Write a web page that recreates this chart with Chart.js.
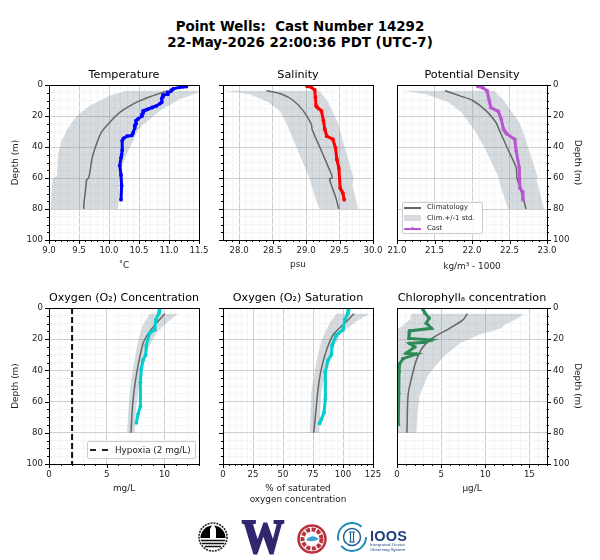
<!DOCTYPE html>
<html>
<head>
<meta charset="utf-8">
<script src="https://cdn.jsdelivr.net/npm/chart.js@4"></script>
<style>
  body { margin: 0; background: #fff; font-family: "DejaVu Sans", sans-serif; }
  #page { position: relative; width: 600px; height: 560px; overflow: hidden; }
  canvas { position: absolute; }
  h1 { position: absolute; left: 0; top: 19px; width: 600px; margin: 0; text-align: center; white-space: pre;
       font: bold 13.4px/16px "DejaVu Sans", sans-serif; color: #000; }
  .legend { position: absolute; background: rgba(255,255,255,.8); border: 1px solid #ccc; border-radius: 2px; box-sizing: border-box; color: #222; }
  .legend div { position: absolute; white-space: pre; }
  .legend i { position: absolute; display: block; }
  #logos { position: absolute; left: 190px; top: 515px; }
</style>
</head>
<body>
<div id="page">
  <h1>Point Wells:  Cast Number 14292
22-May-2026 22:00:36 PDT (UTC-7)</h1>
  <canvas id="c0"></canvas><canvas id="c1"></canvas><canvas id="c2"></canvas>
  <canvas id="c3"></canvas><canvas id="c4"></canvas><canvas id="c5"></canvas>

  <div class="legend" style="left:402px;top:202px;width:81px;height:32px;font-size:6.9px">
    <i style="left:1px;top:4px;width:17px;height:1.5px;background:#666"></i><div style="left:24px;top:0px">Climatology</div>
    <i style="left:1px;top:12px;width:17px;height:6px;background:#d8dce1"></i><div style="left:24px;top:10.5px">Clim.+/-1 std.</div>
    <i style="left:1px;top:25px;width:17px;height:1.5px;background:#ba55d3"></i><i style="left:8px;top:24px;width:3px;height:3px;background:#ba55d3;border-radius:50%"></i><div style="left:24px;top:21px">Cast</div>
  </div>
  <div class="legend" style="left:87px;top:441px;width:109px;height:18px;font-size:8.8px">
    <i style="left:2px;top:7px;width:18px;border-top:2px dashed #222"></i><div style="left:27px;top:2.5px">Hypoxia (2 mg/L)</div>
  </div>

  <svg id="logos" width="230" height="45" viewBox="0 0 230 45">
    <circle cx="23" cy="22" r="14" fill="#fff" stroke="#222" stroke-width="1.6" stroke-dasharray="2 1"/>
    <path d="M10.500 23 A12.500 12.500 0 0 1 35.500 23 Z" fill="#000"/>
    <path d="M20 23 L20 14 L22 10 L24 10 L26 14 L26 23 Z" fill="#fff"/>
    <path d="M11 25.500 H35 M12 28.500 H34 M15 31.500 H31" stroke="#111" stroke-width="1.4"/>
    <text x="73" y="38" text-anchor="middle" font-family="Liberation Serif" font-weight="bold" font-size="49" fill="#32266f" stroke="#32266f" stroke-width="2.2" textLength="42" lengthAdjust="spacingAndGlyphs">W</text>
    <circle cx="122" cy="24" r="13.5" fill="#fff" stroke="#b8333d" stroke-width="2.5"/>
    <circle cx="122" cy="24" r="9.5" fill="none" stroke="#b8333d" stroke-width="4" stroke-dasharray="4 1.500"/>
    <path d="M116 25 Q122 18 129 24 Q122 28 116 25 Z" fill="#3f9fd0"/>
    <circle cx="162" cy="22" r="14" fill="none" stroke="#1f8fb5" stroke-width="2" stroke-dasharray="34 6 36 12"/>
    <circle cx="162" cy="22" r="8.5" fill="none" stroke="#1d5f95" stroke-width="1.5"/>
    <path d="M160.500 17 V27 M163.500 17 V27 M159 17 H165 M159 27 H165" stroke="#1d5f95" stroke-width="1.2"/>
    <text x="180" y="26" font-family="Liberation Sans" font-weight="bold" font-size="14.5" fill="#1c3f80" textLength="37">IOOS</text>
    <text x="180" y="31" font-family="Liberation Sans" font-size="4.3" fill="#1c3f80" textLength="35">Integrated Ocean</text>
    <text x="180" y="36" font-family="Liberation Sans" font-size="4.3" fill="#1c3f80" textLength="35">Observing System</text>
  </svg>
</div>

<script>
// values: *X is the variable, *Y the depth in metres
const tempCastX = [11.29, 11.24, 11.18, 11.07, 11.05, 11.03, 10.98, 10.98, 10.90, 10.90, 10.88, 10.88, 10.85, 10.79, 10.72, 10.65, 10.62, 10.57, 10.57, 10.55, 10.55, 10.48, 10.45, 10.45, 10.43, 10.43, 10.40, 10.38, 10.30, 10.24, 10.22, 10.22, 10.21, 10.20, 10.18, 10.20, 10.21, 10.20];
const tempCastY = [1, 1.2, 1.5, 2.5, 3, 4, 5, 6, 6.5, 7.5, 8.5, 11, 12, 13.5, 14.5, 15.5, 16, 16.7, 18, 19, 20, 22, 23, 25, 26, 27.5, 31, 32.5, 33, 34.5, 36, 42, 45, 47, 52, 58, 65, 74];
const tempClimX = [10.98, 10.68, 10.40, 10.18, 10.01, 9.87, 9.79, 9.72, 9.68, 9.66, 9.63, 9.61, 9.58, 9.58];
const tempClimY = [3.7, 7.6, 12.3, 17.7, 24.2, 30.7, 38.3, 47, 56.7, 60, 61, 67.5, 77.3, 80];
const tempLowX = [10.28, 10.01, 9.68, 9.46, 9.32, 9.21, 9.15, 9.13, 9.06, 9.04, 9.03];
const tempLowY = [3.7, 7, 13.4, 20, 27.5, 36, 45, 59, 60, 70, 80];
const tempHighX = [11.7, 11.5, 11.18, 10.84, 10.51, 10.40, 10.29, 10.21, 10.18, 10.17, 10.15];
const tempHighY = [3.7, 4.8, 9, 16.7, 27.5, 36, 45, 53.5, 60, 71, 80];

const salCastX = [29.02, 29.08, 29.13, 29.14, 29.15, 29.16, 29.23, 29.26, 29.28, 29.31, 29.40, 29.44, 29.46, 29.49, 29.51, 29.55, 29.57];
const salCastY = [0.9, 1.5, 3.2, 8, 13.4, 14, 16.7, 23, 28.5, 33, 35, 40.5, 48, 53.5, 66.5, 69.7, 74];
const salClimX = [28.41, 28.63, 28.81, 28.96, 29.08, 29.09, 29.23, 29.38, 29.39, 29.35, 29.44, 29.49];
const salClimY = [3.7, 5.8, 10, 16.7, 25.3, 28.5, 42.6, 57.8, 60, 60.6, 72, 80];
const salLowX = [27.76, 28.16, 28.43, 28.61, 28.71, 28.86, 29.03, 29.05, 29.14, 29.20];
const salLowY = [3.7, 6, 11, 16.7, 25, 40.5, 58, 60, 73, 80];
const salHighX = [29.20, 29.33, 29.48, 29.55, 29.71, 29.69, 29.78];
const salHighY = [3.7, 11, 25, 36, 60, 64, 80];

const densCastX = [22.08, 22.15, 22.20, 22.23, 22.25, 22.35, 22.39, 22.42, 22.44, 22.46, 22.57, 22.59, 22.63, 22.64, 22.67, 22.68];
const densCastY = [0.9, 2, 3.7, 10, 14.5, 17, 22, 28.5, 30, 31.4, 35, 42.6, 53.5, 66.5, 68.6, 74];
const densClimX = [21.64, 21.84, 22.01, 22.19, 22.32, 22.35, 22.48, 22.59, 22.60, 22.66, 22.72];
const densClimY = [3.7, 7, 10, 16.7, 24.2, 27.5, 41.6, 53.5, 60, 68.6, 80];
const densLowX = [21.08, 21.39, 21.68, 21.86, 22.04, 22.19, 22.35, 22.36, 22.48];
const densLowY = [3.7, 6, 11, 17.7, 29.6, 42.6, 59, 62, 80];
const densHighX = [22.30, 22.44, 22.64, 22.72, 22.88, 22.86, 22.96];
const densHighY = [3.7, 11, 25, 36, 60, 61, 80];

const oxyCastX = [9.60, 9.54, 9.25, 9.16, 8.73, 8.44, 8.38, 8.15, 8.00, 7.92, 7.92, 7.72, 7.57];
const oxyCastY = [1, 3.2, 7.6, 14, 16, 23.8, 30, 33.5, 39, 47.6, 63, 68, 73.6];
const oxyClimX = [10.03, 9.30, 8.58, 8.15, 7.72, 7.43, 7.28, 7.20, 7.11];
const oxyClimY = [3.7, 9.7, 16.7, 22.7, 36.8, 50, 59.5, 67, 80];
const oxyLowX = [8.73, 8.15, 7.72, 7.43, 7.14, 6.94, 6.76];
const oxyLowY = [3.7, 10.8, 20.6, 32.5, 45, 59.5, 80];
const oxyHighX = [11.18, 10.17, 9.31, 8.58, 8.00, 7.72, 7.57, 7.43];
const oxyHighY = [3.7, 9.7, 16, 26, 41, 54, 63, 80];
const hypoxiaX = [2, 2];
const hypoxiaY = [0, 100];

const satCastX = [104.7, 104.2, 101.4, 100, 94.4, 91, 90.3, 87.5, 85.3, 85.3, 84.2, 81.9, 80.5];
const satCastY = [1, 3.2, 7.6, 14, 17.3, 23.8, 30, 33.5, 41, 58.6, 67, 71.4, 74];
const satClimX = [109.2, 101.4, 92.2, 86.7, 81.9, 79.2, 77.8, 75.6];
const satClimY = [3.7, 9.7, 16.7, 26, 39, 52, 63, 80];
const satLowX = [94.4, 88.9, 81.9, 77.2, 73.6, 72.2];
const satLowY = [3.7, 9.7, 21, 36.8, 54, 80];
const satHighX = [122.2, 111, 98.6, 91.7, 86, 81.9, 80];
const satHighY = [3.7, 8.7, 16, 26, 39, 54, 80];

const chlCastX = [2.95, 3.14, 3.63, 3.32, 3.90, 1.44, 1.36, 3.90, 3.14, 1.44, 2.00, 1.06, 2.19, 0.68, 0.30, 0.23, 0.20, 0.15];
const chlCastY = [1, 3, 6.5, 9.7, 13, 14.7, 19.5, 20.5, 22, 22.7, 25, 29, 29.6, 32.5, 35.7, 41, 55, 74.6];
const chlClimX = [7.97, 7.48, 5.97, 4.27, 2.95, 2.19, 1.62, 1.25, 1.13];
const chlClimY = [3.7, 7.6, 13, 18.4, 25, 33.5, 45.5, 56, 80];
const chlLowX = [1.62, 1.50, 0.70, 0, 0];
const chlLowY = [3.7, 7, 11, 13.5, 80];
const chlHighX = [14.35, 13.7, 12.2, 11.8, 9.2, 7.1, 5.2, 3.5, 2.57, 2.38, 2.19];
const chlHighY = [3.7, 6.5, 10.8, 13, 17.3, 22.7, 31.4, 43.3, 56, 65, 80];

const depthMajor = [0, 20, 40, 60, 80, 100];

const xy = (xs, ys) => xs.map((x, i) => ({x: x, y: ys[i]}));

function depthTicks() {
  const out = [];
  for (let d = 0; d <= 100; d += 5) out.push({value: d});
  return out;
}

function rangeTicks(min, max, step) {
  const out = [];
  const n0 = Math.ceil(min / step - 1e-6), n1 = Math.floor(max / step + 1e-6);
  for (let n = n0; n <= n1; n++) out.push({value: +(n * step).toFixed(4)});
  return out;
}

const isMajor = (v, step) => Math.abs(v / step - Math.round(v / step)) < 1e-4;

// +/- 1 std band: the filler does not cope with these edges, so fill the polygon through the scales
const bandPlugin = {
  id: 'band',
  beforeDatasetsDraw(chart) {
    const {ctx, chartArea: a, scales: {x, y}} = chart;
    const low = chart.data.datasets.find(d => d.label === 'Clim.+/-1 std.');
    const high = chart.data.datasets.find(d => d.label === 'high');
    const pts = low.data.concat(high.data.slice().reverse());
    ctx.save();
    ctx.beginPath();
    ctx.rect(a.left, a.top, a.right - a.left, a.bottom - a.top);
    ctx.clip();
    ctx.beginPath();
    pts.forEach((p, i) => {
      const px = x.getPixelForValue(p.x), py = y.getPixelForValue(p.y);
      if (i === 0) ctx.moveTo(px, py); else ctx.lineTo(px, py);
    });
    ctx.closePath();
    ctx.fillStyle = 'rgba(119,136,153,0.3)';
    ctx.fill();
    ctx.restore();
  }
};

// tick marks and the black frame, matplotlib style
const framePlugin = {
  id: 'frame',
  afterDraw(chart, args, opts) {
    const {ctx, chartArea: a, scales: {x, y}} = chart;
    ctx.save();
    ctx.strokeStyle = '#000';
    ctx.lineWidth = 1;
    ctx.beginPath();
    x.ticks.forEach(t => {
      const px = Math.round(x.getPixelForValue(t.value)) + 0.5;
      ctx.moveTo(px, a.bottom);
      ctx.lineTo(px, a.bottom + (isMajor(t.value, opts.xStep) ? 4 : 2));
    });
    y.ticks.forEach(t => {
      const py = Math.round(y.getPixelForValue(t.value)) + 0.5;
      const len = isMajor(t.value, 20) ? 4 : 2;
      const ex = opts.right ? a.right : a.left;
      ctx.moveTo(ex, py);
      ctx.lineTo(opts.right ? ex + len : ex - len, py);
    });
    ctx.stroke();
    ctx.strokeRect(a.left + 0.5, a.top + 0.5, a.right - a.left, a.bottom - a.top);
    ctx.restore();
  }
};

const AXIS_L = 39, AXIS_R = 36, PAD = 16, PLOT_W = 150, TITLE_H = 17;

function panel(cfg) {
  const canvas = document.getElementById(cfg.id);
  const plotH = cfg.plotBottom - cfg.plotTop;
  canvas.width = (cfg.right ? AXIS_R : AXIS_L) + PLOT_W + PAD;
  canvas.height = TITLE_H + plotH + cfg.xAxisH + 2;
  canvas.style.left = (cfg.right ? cfg.plotLeft - PAD : cfg.plotLeft - AXIS_L) + 'px';
  canvas.style.top = (cfg.plotTop - TITLE_H) + 'px';

  const datasets = [];
  if (cfg.hypoxia) datasets.push({label: 'Hypoxia (2 mg/L)', data: xy(hypoxiaX, hypoxiaY), borderColor: '#111', borderWidth: 2, borderDash: [6, 3], pointRadius: 0});
  datasets.push({label: 'Cast', data: xy(cfg.castX, cfg.castY), borderColor: cfg.color, backgroundColor: cfg.color, borderWidth: 3, pointRadius: 1.9, pointBorderWidth: 0, fill: false});
  datasets.push({label: 'Climatology', data: xy(cfg.climX, cfg.climY), borderColor: '#666', borderWidth: 1.5, pointRadius: 0, tension: 0.25, fill: false});
  // the two band edges carry no line of their own, bandPlugin fills between them
  datasets.push({label: 'Clim.+/-1 std.', data: xy(cfg.lowX, cfg.lowY), borderWidth: 0, pointRadius: 0, showLine: false, fill: false});
  datasets.push({label: 'high', data: xy(cfg.highX, cfg.highY), borderWidth: 0, pointRadius: 0, showLine: false, fill: false});

  new Chart(canvas, {
    type: 'line',
    data: {datasets: datasets},
    plugins: [bandPlugin, framePlugin],
    options: {
      responsive: false,
      animation: false,
      events: [],
      devicePixelRatio: 1,
      layout: {padding: {left: cfg.right ? PAD : 0, right: cfg.right ? 0 : PAD, top: 0, bottom: 0}},
      plugins: {
        legend: {display: false},
        tooltip: {enabled: false},
        title: {display: true, text: cfg.title, color: '#000', fullSize: false, font: {family: 'DejaVu Sans', size: 11.2, weight: 'normal', lineHeight: 1.2}, padding: {top: 0, bottom: 3.56}},
        frame: {xStep: cfg.xMajor, right: !!cfg.right}
      },
      scales: {
        x: {
          type: 'linear',
          min: cfg.xMin,
          max: cfg.xMax,
          afterBuildTicks: s => { s.ticks = rangeTicks(cfg.xMin, cfg.xMax, cfg.xMinor); },
          afterFit: s => { s.height = cfg.xAxisH; s.paddingLeft = 0; s.paddingRight = 0; },
          border: {display: false},
          grid: {drawTicks: false, color: c => isMajor(c.tick.value, cfg.xMajor) ? '#cfcfcf' : '#f4f4f4'},
          ticks: {autoSkip: false, maxRotation: 0, padding: 6, color: '#222', font: {family: 'DejaVu Sans', size: 8.6},
            callback: v => isMajor(v, cfg.xMajor) ? v.toFixed(cfg.digits) : ''},
          title: {display: true, text: cfg.xTitle, color: '#222', font: {family: 'DejaVu Sans', size: 8.9}, padding: 0}
        },
        y: {
          type: 'linear',
          reverse: true,
          position: cfg.right ? 'right' : 'left',
          min: 0,
          max: 100,
          afterBuildTicks: s => { s.ticks = depthTicks(); },
          afterFit: s => { s.width = cfg.right ? AXIS_R : AXIS_L; s.paddingTop = 0; s.paddingBottom = 0; },
          border: {display: false},
          grid: {drawTicks: false, color: c => isMajor(c.tick.value, 20) ? '#cfcfcf' : '#f4f4f4'},
          ticks: {autoSkip: false, padding: 6, color: '#222', font: {family: 'DejaVu Sans', size: 8.6},
            callback: v => (!cfg.noDepth && depthMajor.includes(v)) ? String(v) : ''},
          title: {display: !cfg.noDepth, text: 'Depth (m)', color: '#222', font: {family: 'DejaVu Sans', size: 8.9}, padding: 0}
        }
      }
    }
  });
}

const TOP = {plotTop: 85, plotBottom: 238};
const BOT = {plotTop: 308, plotBottom: 462};

panel({id: 'c0', ...TOP, plotLeft: 49, title: 'Temperature', xTitle: '˚C', color: '#0000ff', xMin: 9, xMax: 11.5, xMajor: 0.5, xMinor: 0.1, digits: 1, xAxisH: 31,
  castX: tempCastX, castY: tempCastY, climX: tempClimX, climY: tempClimY, lowX: tempLowX, lowY: tempLowY, highX: tempHighX, highY: tempHighY});
panel({id: 'c1', ...TOP, plotLeft: 223, noDepth: true, title: 'Salinity', xTitle: 'psu', color: '#ff0000', xMin: 27.76, xMax: 30, xMajor: 0.5, xMinor: 0.1, digits: 1, xAxisH: 30,
  castX: salCastX, castY: salCastY, climX: salClimX, climY: salClimY, lowX: salLowX, lowY: salLowY, highX: salHighX, highY: salHighY});
panel({id: 'c2', ...TOP, plotLeft: 397, right: true, title: 'Potential Density', xTitle: 'kg/m³ - 1000', color: '#ba55d3', xMin: 21, xMax: 23, xMajor: 0.5, xMinor: 0.1, digits: 1, xAxisH: 32,
  castX: densCastX, castY: densCastY, climX: densClimX, climY: densClimY, lowX: densLowX, lowY: densLowY, highX: densHighX, highY: densHighY});
panel({id: 'c3', ...BOT, plotLeft: 49, hypoxia: true, title: 'Oxygen (O₂) Concentration', xTitle: 'mg/L', color: '#00ced1', xMin: 0, xMax: 13, xMajor: 5, xMinor: 1, digits: 0, xAxisH: 30,
  castX: oxyCastX, castY: oxyCastY, climX: oxyClimX, climY: oxyClimY, lowX: oxyLowX, lowY: oxyLowY, highX: oxyHighX, highY: oxyHighY});
panel({id: 'c4', ...BOT, plotLeft: 223, noDepth: true, title: 'Oxygen (O₂) Saturation', xTitle: ['% of saturated', 'oxygen concentration'], color: '#00ced1', xMin: 0, xMax: 125, xMajor: 25, xMinor: 5, digits: 0, xAxisH: 41,
  castX: satCastX, castY: satCastY, climX: satClimX, climY: satClimY, lowX: satLowX, lowY: satLowY, highX: satHighX, highY: satHighY});
panel({id: 'c5', ...BOT, plotLeft: 397, right: true, title: 'Chlorophyllₐ concentration', xTitle: 'μg/L', color: '#2e8b57', xMin: 0, xMax: 17, xMajor: 5, xMinor: 1, digits: 0, xAxisH: 30,
  castX: chlCastX, castY: chlCastY, climX: chlClimX, climY: chlClimY, lowX: chlLowX, lowY: chlLowY, highX: chlHighX, highY: chlHighY});
</script>
</body>
</html>
